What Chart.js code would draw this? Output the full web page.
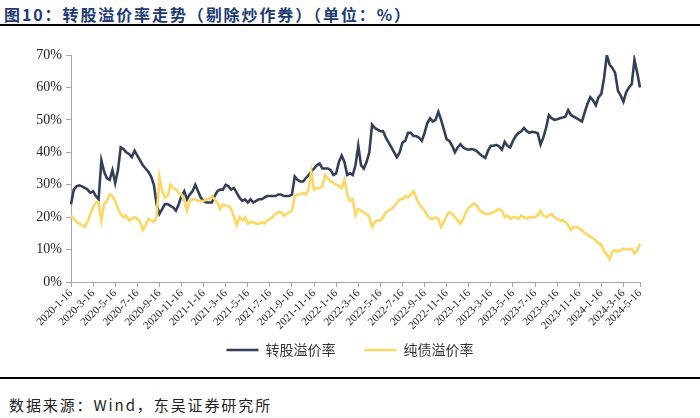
<!DOCTYPE html>
<html>
<head>
<meta charset="utf-8">
<script src="https://cdn.jsdelivr.net/npm/chart.js@4.4.1/dist/chart.umd.min.js"></script>
<style>
  body { margin: 0; width: 700px; height: 418px; background: #fff; position: relative; overflow: hidden;
         font-family: "Noto Sans CJK SC", sans-serif; }
  #title { position: absolute; left: 4px; top: 2px; font-size: 16px; font-weight: bold; color: #213a73;
           letter-spacing: 1.9px; white-space: nowrap; }
  .rule { position: absolute; left: 0; width: 700px; background: #000; }
  #r1 { top: 24px; height: 2px; }
  #r2 { top: 377px; height: 2px; }
  #foot { position: absolute; left: 9px; top: 394px; font-size: 15px; color: #222; letter-spacing: 1.9px; white-space: nowrap; }
  #chart { position: absolute; left: 0; top: 30px; }
</style>
</head>
<body>
<div id="title">图10：转股溢价率走势（剔除炒作券）（单位：%）</div>
<div class="rule" id="r1"></div>
<canvas id="chart" width="700" height="337"></canvas>
<div class="rule" id="r2"></div>
<div id="foot">数据来源：Wind，东吴证券研究所</div>

<script>
// 2020-1-16 起，每 1/4 个月取一个点（%）
const tickLabels = [
  "2020-1-16", "2020-3-16", "2020-5-16", "2020-7-16", "2020-9-16", "2020-11-16",
  "2021-1-16", "2021-3-16", "2021-5-16", "2021-7-16", "2021-9-16", "2021-11-16",
  "2022-1-16", "2022-3-16", "2022-5-16", "2022-7-16", "2022-9-16", "2022-11-16",
  "2023-1-16", "2023-3-16", "2023-5-16", "2023-7-16", "2023-9-16", "2023-11-16",
  "2024-1-16", "2024-3-16"
];
const lastLabel = "2024-5-16";

const seriesNames = ["转股溢价率", "纯债溢价率"];

const convPremium = [
  24, 28.5, 29.5, 29.8, 29.5, 29, 28.5, 27.5, 28, 26.5,
  25.5, 37.5, 34, 32, 31.5, 34.5, 30.5, 34.5, 41.5, 41,
  40, 39.5, 38.5, 40.5, 39, 37.5, 36, 35, 34, 32.5,
  30, 24, 21, 22.5, 24, 24, 23.5, 23, 22, 24,
  26.5, 28, 25.5, 27, 28, 30, 28, 26, 25, 24.5,
  24.5, 24.5, 26.5, 28, 28.5, 28.5, 30, 29.5, 28.5, 29,
  27.5, 26, 25, 25.5, 24.5, 25.5, 24.5, 25, 25.5, 25.5,
  26, 26.5, 26.5, 26.5, 26.5, 27, 27, 26.5, 26.5, 26.5,
  27, 32.5, 31.5, 31, 31, 32, 33, 34, 35, 36,
  36.5, 35, 35, 35, 34.5, 33, 33.5, 37, 39, 37,
  33, 33.5, 33, 36, 42, 36, 35, 37, 40, 48.5,
  47.5, 47, 46.5, 46.5, 44.5, 43, 41.5, 40, 38.5, 40,
  43, 43.5, 46, 46, 45, 45, 44.5, 43.5, 46, 49,
  50.5, 49.5, 50, 52.5, 50, 47, 44, 43.5, 42, 40,
  41.5, 42.5, 41.5, 41, 40.8, 41, 40.8, 40.3, 39.5, 38.8,
  38.3, 40.5, 42, 42, 42.3, 41.8, 40.8, 43.2, 42, 41.5,
  43.5, 45, 46, 46.4, 47.5, 46.5, 46, 46.3, 46.2, 45.8,
  42.4, 44.5, 47.5, 51.5, 50.5, 50, 50.2, 50.5, 50.7, 51,
  53, 51.5, 51, 50.5, 50, 49.5, 52.4, 55, 57, 56,
  54.5, 57, 58, 63, 70, 67, 66, 64.5, 59, 57.5,
  55.6, 58.5, 60, 61, 68.5, 64.5, 60
];

const bondPremium = [
  20.5, 19.5, 18.5, 18, 17.5, 17, 18.5, 21, 23, 24.5,
  24.5, 19, 24, 25, 27, 26.5, 25, 22.5, 21, 20,
  20.5, 19, 19.5, 20, 19.5, 18.5, 16, 17.5, 19.5, 19,
  18.5, 20, 32.5, 28, 26, 26.5, 30, 29, 28.5, 27.5,
  27, 25, 22, 25, 25.5, 25.5, 25, 25, 25, 25.5,
  25.5, 26.5, 25.5, 24.5, 22.5, 24, 23.5, 23.5, 22.5, 20,
  17.5, 20, 19, 20, 18, 18.5, 18.5, 18, 18, 18.5,
  18, 19, 19.5, 20, 21, 21.5, 21.5, 20.5, 21, 21.5,
  22, 26.5, 27, 27, 27.5, 27, 28.5, 34, 28.5, 29,
  29, 29.5, 33, 32, 31, 30.5, 30, 29.5, 29, 31.5,
  27, 25, 25.5, 20.5, 22.5, 22, 21.5, 21, 20, 17,
  18.5, 19, 19, 20, 21.5, 22, 22.5, 23.5, 24.5, 25.5,
  25.5, 26.5, 26, 27, 28, 26, 24, 23, 22, 20.5,
  19.5, 19.5, 20, 19.5, 17, 18.5, 20.5, 21.5, 21, 20,
  19, 18, 19.5, 21.5, 23, 23.5, 24.3, 23.5, 22, 21.5,
  21, 21, 21.2, 21.5, 22, 22.5, 22, 20, 20.5, 19.5,
  20, 20, 19.5, 20.5, 20, 19.5, 20, 20, 20, 20.5,
  22, 20.5, 20, 20.5, 21, 20, 19.5, 19, 19, 18.5,
  17.5, 16, 17, 17, 16.5, 16, 15, 14.5, 14, 13.5,
  12.8, 12, 11.5, 9.5, 8.5, 7, 9.5, 9.8, 9.4, 9.8,
  10.3, 10, 10, 10.3, 8.8, 9.8, 11.8
];

const lastIdx = convPremium.length - 1;
const labels = convPremium.map((_, i) =>
  i % 8 === 0 && tickLabels[i / 8] ? tickLabels[i / 8] : (i === lastIdx ? lastLabel : "")
);

const axisColor = "#a6a6a6";
const serif = "'Liberation Serif', 'Times New Roman', serif";

new Chart(document.getElementById("chart"), {
  type: "line",
  data: {
    labels,
    datasets: [
      { label: seriesNames[0], data: convPremium, borderColor: "#333f58", backgroundColor: "#333f58",
        borderWidth: 2.6, pointRadius: 0, tension: 0, order: 1 },
      { label: seriesNames[1], data: bondPremium, borderColor: "#fdd663", backgroundColor: "#fdd663",
        borderWidth: 2.6, pointRadius: 0, tension: 0, order: 0 }
    ]
  },
  options: {
    responsive: false,
    animation: false,
    layout: { padding: { top: 25, right: 0, left: 0, bottom: 0 } },
    scales: {
      x: {
        offset: false,
        grid: { drawOnChartArea: false, tickLength: 5, color: axisColor },
        border: { color: axisColor, width: 1 },
        ticks: {
          autoSkip: false, minRotation: 45, maxRotation: 45, padding: 0,
          color: "#222", font: { family: serif, size: 11 },
          callback: function (v) { const l = this.getLabelForValue(v); return l === "" ? null : l; }
        },
        afterFit: s => { s.height = 53; }
      },
      y: {
        min: 0, max: 70,
        grid: { drawOnChartArea: false, tickLength: 5, color: axisColor },
        border: { color: axisColor, width: 1 },
        ticks: { stepSize: 10, padding: 4, color: "#222", font: { family: serif, size: 14 },
                 callback: v => v + "%" },
        afterFit: s => { s.width = 71; }
      },
      // 右侧留白
      yRight: {
        position: "right",
        grid: { display: false },
        border: { display: false },
        ticks: { display: false },
        afterFit: s => { s.width = 60; }
      }
    },
    plugins: {
      tooltip: { enabled: false },
      legend: {
        position: "bottom",
        labels: {
          usePointStyle: true, pointStyle: "line", pointStyleWidth: 32, padding: 8,
          color: "#333", font: { family: "'Noto Sans CJK SC', sans-serif", size: 14 },
          sort: (a, b) => a.datasetIndex - b.datasetIndex,
          generateLabels: chart => {
            const items = Chart.defaults.plugins.legend.labels.generateLabels(chart);
            items.forEach(it => { if (it.datasetIndex === 0) it.text += "\u3000\u2002"; });
            return items;
          }
        }
      }
    }
  }
});
</script>
</body>
</html>
